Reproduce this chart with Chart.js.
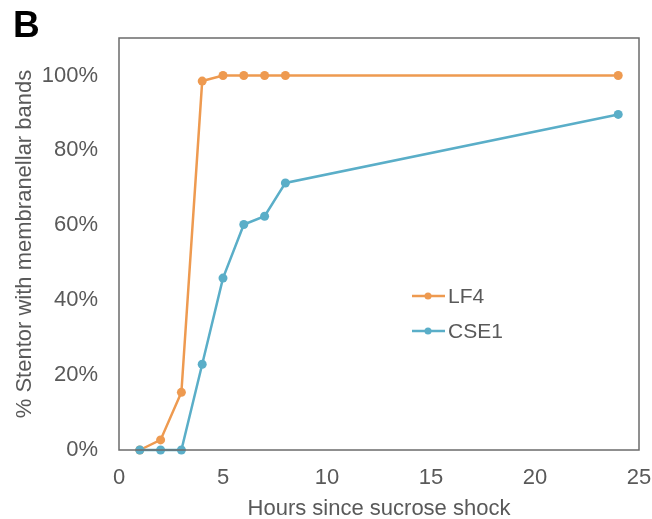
<!DOCTYPE html>
<html>
<head>
<meta charset="utf-8">
<script src="https://cdn.jsdelivr.net/npm/chart.js@4.4.1/dist/chart.umd.min.js"></script>
<style>
  html, body { margin: 0; padding: 0; background: #fff; }
  #wrap { position: relative; width: 652px; height: 519px; }
  #panel { position: absolute; left: 13px; top: 4px; font: bold 37px 'Liberation Sans', Arial, sans-serif; color: #000; }
</style>
</head>
<body>
<div id="wrap">
  <canvas id="chart" width="652" height="519"></canvas>
  <div id="panel">B</div>
</div>
<script>
'use strict';

// ── data ──
const hours = [1, 2, 3, 4, 5, 6, 7, 8, 24];
const lf4 = [0, 2.7, 15.4, 98.5, 100, 100, 100, 100, 100];
const cse1 = [0, 0, 0, 22.9, 45.9, 60.2, 62.4, 71.3, 89.6];
const seriesNames = ['LF4', 'CSE1'];
const seriesColors = ['#EE9A50', '#5AAEC8'];
const yTicks = [0, 20, 40, 60, 80, 100];

const FONT = "'Liberation Sans', Arial, sans-serif";
const TEXT = '#595959';

Chart.defaults.font.family = FONT;
Chart.defaults.color = TEXT;

const toXY = (vals) => hours.map((h, i) => ({ x: h, y: vals[i] }));

// frame round the plot + in-plot legend
const framePlugin = {
  id: 'frame',
  afterDatasetsDraw(chart) {
    const { ctx, chartArea: a } = chart;
    ctx.save();
    ctx.strokeStyle = '#6b6b6b';
    ctx.lineWidth = 1.5;
    ctx.strokeRect(a.left, a.top, a.right - a.left, a.bottom - a.top);

    // legend
    const lx = 412, ly = [296, 331];
    chart.data.datasets.forEach((ds, i) => {
      ctx.strokeStyle = ds.borderColor;
      ctx.lineWidth = 2.5;
      ctx.beginPath();
      ctx.moveTo(lx, ly[i]);
      ctx.lineTo(lx + 33, ly[i]);
      ctx.stroke();
      ctx.fillStyle = ds.borderColor;
      ctx.beginPath();
      ctx.arc(lx + 16, ly[i], 3.5, 0, Math.PI * 2);
      ctx.fill();
      ctx.fillStyle = TEXT;
      ctx.font = `21px ${FONT}`;
      ctx.textBaseline = 'middle';
      ctx.fillText(ds.label, lx + 36, ly[i] + 1);
    });
    ctx.restore();
  }
};

new Chart(document.getElementById('chart'), {
  type: 'line',
  data: {
    datasets: [lf4, cse1].map((vals, i) => ({
      label: seriesNames[i],
      data: toXY(vals),
      borderColor: seriesColors[i],
      backgroundColor: seriesColors[i],
      borderWidth: 2.5,
      pointRadius: 4.5,
      pointHoverRadius: 4.5,
      pointBorderWidth: 0,
      tension: 0,
      clip: false,
      order: 1 - i // CSE1 drawn on top, as in the figure
    }))
  },
  options: {
    responsive: false,
    animation: false,
    layout: { padding: { left: 0, top: 38, right: 13, bottom: 0 } },
    plugins: { legend: { display: false }, tooltip: { enabled: false } },
    scales: {
      x: {
        type: 'linear', min: 0, max: 25,
        grid: { display: false },
        border: { display: false },
        ticks: { stepSize: 5, padding: 7, font: { size: 22 }, color: TEXT },
        title: { display: true, text: 'Hours since sucrose shock', font: { size: 22 }, color: TEXT, padding: { top: 0, bottom: -3 } },
        afterFit: (s) => { s.height = 69; s.paddingRight = 0; }
      },
      y: {
        min: 0, max: 110,
        grid: { display: false },
        border: { display: false },
        afterBuildTicks: (s) => { s.ticks = yTicks.map(v => ({ value: v })); },
        ticks: { padding: 13, font: { size: 22 }, color: TEXT, callback: v => v + '%' },
        title: { display: true, text: '% Stentor with membranellar bands', font: { size: 22 }, color: TEXT, padding: { top: 12, bottom: 0 } },
        afterFit: (s) => { s.width = 119; }
      }
    }
  },
  plugins: [framePlugin]
});
</script>
</body>
</html>
